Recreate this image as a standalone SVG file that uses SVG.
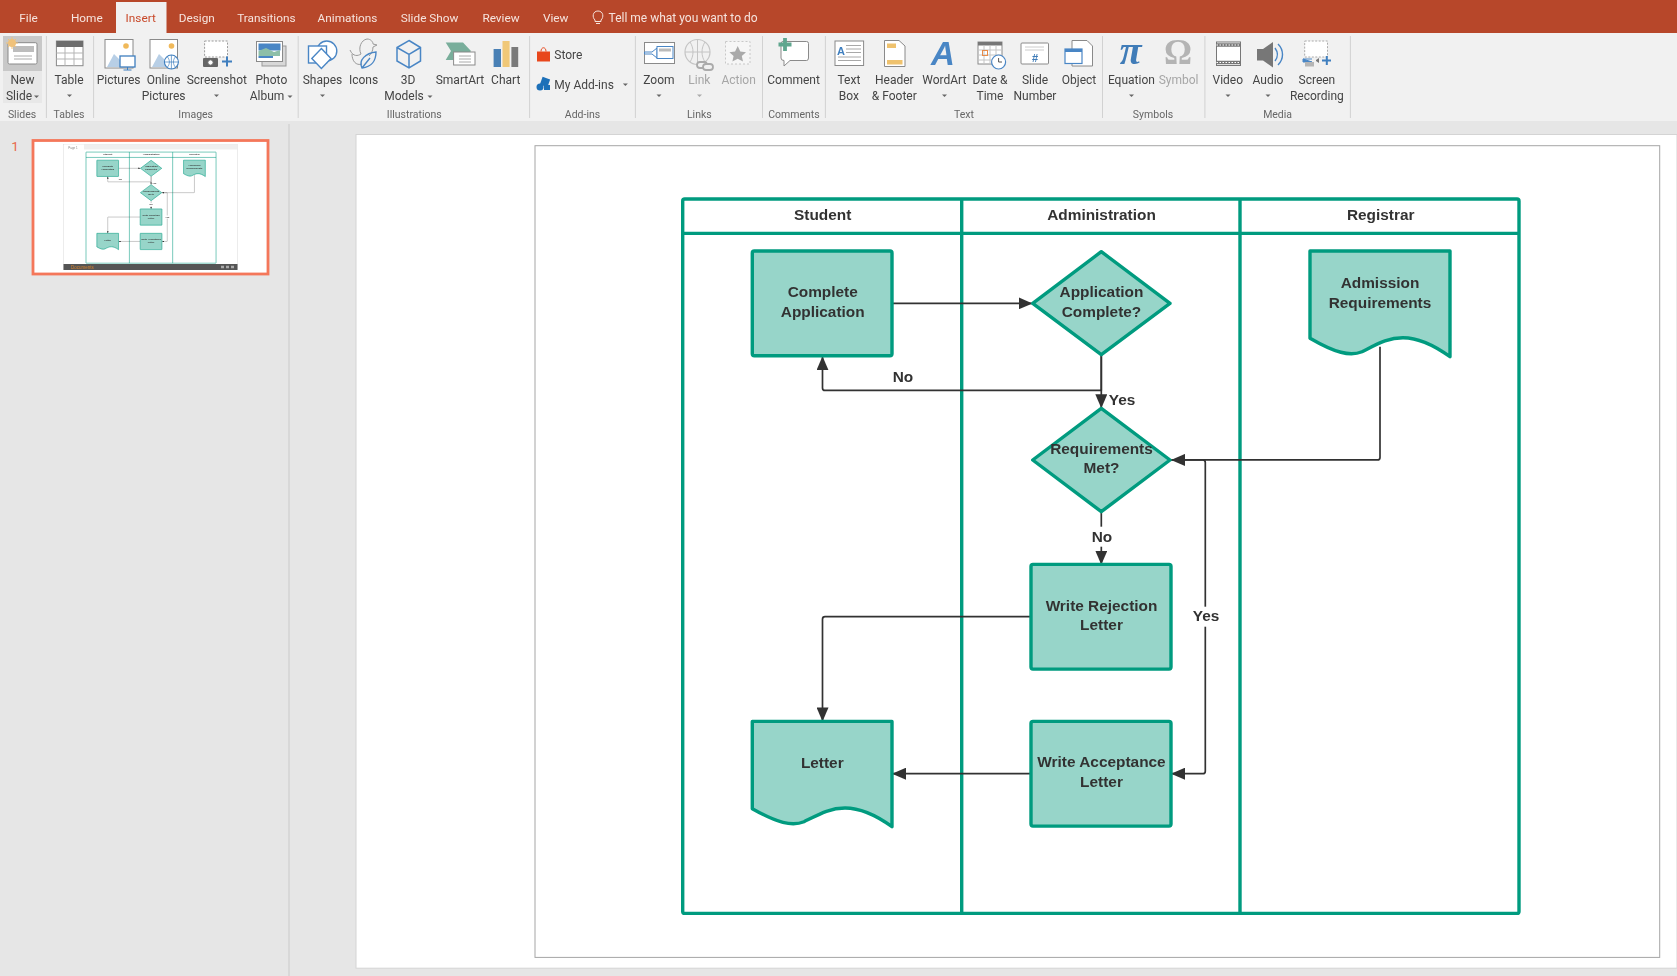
<svg xmlns="http://www.w3.org/2000/svg" xmlns:xlink="http://www.w3.org/1999/xlink" width="1677" height="976" viewBox="0 0 1677 976">
<style>
.tab{font:11.8px Roboto,"Liberation Sans",sans-serif;fill:#F6E4DE;text-anchor:middle}
.lb{font:12px Roboto,"Liberation Sans",sans-serif;fill:#444;text-anchor:middle}
.dis{fill:#A6A6A6}
.gl{font:10.5px Roboto,"Liberation Sans",sans-serif;fill:#666;text-anchor:middle}
.sep{stroke:#D2D2D2;stroke-width:1}
.ico{fill:#fff;stroke:#8A8A8A;stroke-width:1}
.blue{fill:none;stroke:#4A86C5;stroke-width:1.4}
.t{font:bold 15.4px "Liberation Sans",Arial,sans-serif;fill:#333;text-anchor:middle}
.lane{fill:none;stroke:#009B7F;stroke-width:3.4;stroke-linejoin:round}
.shape{fill:#97D5C9;stroke:#009B7F;stroke-width:3.4;stroke-linejoin:round}
.c{fill:none;stroke:#333;stroke-width:1.7;stroke-linejoin:round}
</style>
<defs>
<marker id="ah" markerUnits="userSpaceOnUse" markerWidth="15" markerHeight="12" refX="14" refY="6" orient="auto"><path d="M0 0L14 6L0 12Z" fill="#333"/></marker>
<filter id="soft" x="-2%" y="-2%" width="104%" height="104%"><feGaussianBlur stdDeviation="0.35"/></filter>
<filter id="main" x="-2%" y="-2%" width="104%" height="104%"><feGaussianBlur stdDeviation="0.3"/></filter>
<filter id="thumb" x="-2%" y="-2%" width="104%" height="104%"><feGaussianBlur stdDeviation="0.6"/></filter>
<path id="dd" d="M-2.5 0H2.5L0 2.5Z" fill="#666"/>
<g id="diagram">
<g id="lanes">
<rect class="lane" x="682.7" y="198.3" width="836.3" height="714.4" rx="2" fill="none"/>
<path class="lane" d="M682.7 232.7H1519M961.7 198.3V912.7M1240 198.3V912.7"/>
<text class="t" x="822.7" y="219.3">Student</text>
<text class="t" x="1101.5" y="219.3">Administration</text>
<text class="t" x="1380.7" y="219.3">Registrar</text>
</g>
<g id="connectors">
<path class="c" d="M892 302.7H1032.5" marker-end="url(#ah)"/>
<path class="c" d="M1101.3 354V389.7H825a2.5 2.5 0 0 1-2.5-2.5V355.5" marker-end="url(#ah)"/>
<path class="c" d="M1101.3 354V407.5" marker-end="url(#ah)"/>
<path class="c" d="M1380 346V456.7a2.5 2.5 0 0 1-2.5 2.5H1171" marker-end="url(#ah)"/>
<path class="c" d="M1101.3 511V564" marker-end="url(#ah)"/>
<path class="c" d="M1031 616H825a2.5 2.5 0 0 0-2.5 2.5V720.7" marker-end="url(#ah)"/>
<path class="c" d="M1171 459.2H1202.8a2.5 2.5 0 0 1 2.5 2.5V770.5a2.5 2.5 0 0 1-2.5 2.5H1171" marker-end="url(#ah)"/>
<path class="c" d="M1031 773H892" marker-end="url(#ah)"/>
</g>
<g id="edge-labels">
<text class="t" x="903" y="381">No</text>
<text class="t" x="1122" y="404">Yes</text>
<rect x="1088" y="526" width="27" height="20" fill="#fff"/>
<text class="t" x="1102" y="541.3">No</text>
<rect x="1190" y="606" width="32" height="20" fill="#fff"/>
<text class="t" x="1206" y="620.7">Yes</text>
</g>
<g id="complete-application"><rect class="shape" x="752.3" y="250.3" width="139.7" height="104.7" rx="2"/><text class="t" x="822.7" y="296.7">Complete</text><text class="t" x="822.7" y="316">Application</text></g>
<g id="application-complete"><path class="shape" d="M1101.3 251L1170 302.7L1101.3 354L1032.7 302.7Z"/><text class="t" x="1101.5" y="296.7">Application</text><text class="t" x="1101.5" y="316">Complete?</text></g>
<g id="admission-requirements"><path class="shape" d="M1310 250.3H1450V356C1432 343 1418 337 1403 337C1388 337 1378 343 1362 351C1350 356 1335 352 1310 337.5Z"/><text class="t" x="1380" y="287.7">Admission</text><text class="t" x="1380" y="307">Requirements</text></g>
<g id="requirements-met"><path class="shape" d="M1101.3 407.7L1170 459.3L1101.3 511L1032.7 459.3Z"/><text class="t" x="1101.5" y="453.3">Requirements</text><text class="t" x="1101.5" y="472.7">Met?</text></g>
<g id="write-rejection"><rect class="shape" x="1031" y="563.7" width="140" height="104.7" rx="2"/><text class="t" x="1101.5" y="610">Write Rejection</text><text class="t" x="1101.5" y="629.3">Letter</text></g>
<g id="write-acceptance"><rect class="shape" x="1031" y="720.7" width="140" height="104.7" rx="2"/><text class="t" x="1101.5" y="766.7">Write Acceptance</text><text class="t" x="1101.5" y="786">Letter</text></g>
<g id="letter"><path class="shape" d="M752.3 720.7H892V826C874 813 860 807.3 845 807.3C830 807.3 820 813 804 821C792 826 777 822 752.3 808Z"/><text class="t" x="822.3" y="767.7">Letter</text></g>
</g>
</defs>

<rect width="1677" height="976" fill="#E6E6E6"/>
<rect x="356" y="134.500" width="1321" height="833.700" fill="#fff" stroke="#D4D4D4" stroke-width="1"/>
<rect x="535" y="145.700" width="1124.700" height="811.700" fill="#fff" stroke="#A6A6A6" stroke-width="1"/>
<path d="M289 124V976" stroke="#CFCFCF" stroke-width="1.200"/>

<g id="ribbon" filter="url(#soft)">
<rect width="1677" height="33" fill="#B7472A"/>
<rect y="33" width="1677" height="88" fill="#F1F1F1"/>
<rect x="116" y="2" width="50.500" height="32" fill="#F1F1F1"/>
<g id="tabs">
<text class="tab" x="28.600" y="21.500">File</text><text class="tab" x="86.800" y="21.500">Home</text><text class="tab" x="140.700" y="21.500" style="fill:#C8492A">Insert</text><text class="tab" x="196.800" y="21.500">Design</text><text class="tab" x="266.400" y="21.500">Transitions</text><text class="tab" x="347.500" y="21.500">Animations</text><text class="tab" x="429.600" y="21.500">Slide Show</text><text class="tab" x="501" y="21.500">Review</text><text class="tab" x="555.700" y="21.500">View</text>
<text class="tab" x="608.600" y="21.500" style="text-anchor:start;font-size:12px">Tell me what you want to do</text>
<path d="M595 21.500V20C592 17.500 592.500 11 598 11S604 17.500 601 20V21.500ZM596 23.500H600" fill="none" stroke="#F6E4DE" stroke-width="1"/>
</g>
<g class="sep"><path d="M46.400 36V118M93.600 36V118M298.200 36V118M529.600 36V118M635.400 36V118M762.500 36V118M825.400 36V118M1102.500 36V118M1204.900 36V118M1350.400 36V118"/></g>
<g id="group-labels">
<text class="gl" x="22" y="117.500">Slides</text><text class="gl" x="69" y="117.500">Tables</text><text class="gl" x="195.700" y="117.500">Images</text><text class="gl" x="414.300" y="117.500">Illustrations</text><text class="gl" x="582.500" y="117.500">Add-ins</text><text class="gl" x="699.300" y="117.500">Links</text><text class="gl" x="793.900" y="117.500">Comments</text><text class="gl" x="963.900" y="117.500">Text</text><text class="gl" x="1153" y="117.500">Symbols</text><text class="gl" x="1277.600" y="117.500">Media</text>
</g>
<g id="btn-new-slide"><rect x="3" y="36" width="39" height="67" fill="#E8E8E8"/><rect x="3" y="36" width="39" height="35" fill="#C8C8C8"/><rect class="ico" x="8" y="42.700" width="29" height="21.300" rx="1.500"/><rect x="13" y="46" width="21" height="6" fill="#BDBDBD"/><path d="M14 56H32M14 59H32" stroke="#AAA"/><circle cx="12" cy="43" r="4" fill="#F0C27B"/><path d="M12 37V49M6 43H18M8 39L16 47M16 39L8 47" stroke="#F0C27B"/><text class="lb" x="22.500" y="84">New</text><text class="lb" x="19" y="100">Slide</text><use href="#dd" x="36.500" y="95.500"/></g>
<g id="btn-table"><rect class="ico" x="56.400" y="41" width="26.600" height="24.700"/><rect x="56.400" y="41" width="26.600" height="6" fill="#6D6D6D"/><path d="M56.400 53H83M56.400 59H83M65 47V65.700M74 47V65.700" stroke="#B5B5B5"/><text class="lb" x="69" y="84">Table</text><use href="#dd" x="69.500" y="94.500"/></g>
<g id="btn-pictures"><rect class="ico" x="105" y="39.500" width="28" height="28.500"/><circle cx="126" cy="46" r="2.800" fill="#F0B95A"/><path d="M107 67L114 54L120 60L124 67Z" fill="#B8CFE6"/><rect x="120" y="56" width="15" height="11" fill="#fff" stroke="#3F7FBF" stroke-width="1.300"/><path d="M127.500 67V70M123.500 70H131.500" stroke="#3F7FBF"/><text class="lb" x="118.600" y="84">Pictures</text></g>
<g id="btn-online"><rect class="ico" x="150" y="39.500" width="27.500" height="28.500"/><circle cx="171.500" cy="46" r="2.800" fill="#F0B95A"/><path d="M152 67L159 54L165 60L169 67Z" fill="#B8CFE6"/><circle cx="171.400" cy="62" r="7" fill="#fff" stroke="#3F7FBF" stroke-width="1.100"/><path d="M164.400 62H178.400M171.400 55V69M167.500 57C170 60 170 64 167.500 67M175.300 57C172.800 60 172.800 64 175.300 67" fill="none" stroke="#3F7FBF" stroke-width=".7"/><text class="lb" x="163.600" y="84">Online</text><text class="lb" x="163.600" y="100">Pictures</text></g>
<g id="btn-screenshot"><rect x="204.600" y="41" width="22.900" height="16" fill="#fff" stroke="#9A9A9A" stroke-dasharray="2 1.500"/><rect x="203" y="58" width="15" height="9" rx="1" fill="#666"/><circle cx="210.500" cy="62.500" r="2.700" fill="#fff" stroke="#666"/><path d="M222 61.500H232M227 56.500V66.500" stroke="#3F7FBF" stroke-width="2"/><text class="lb" x="216.800" y="84">Screenshot</text><use href="#dd" x="216.500" y="94.500"/></g>
<g id="btn-album"><rect x="262" y="46" width="24" height="20" fill="#D8D8D8" stroke="#999"/><rect class="ico" x="256.500" y="41.500" width="26" height="20"/><rect x="258.500" y="43.500" width="22" height="7" fill="#4A86C5"/><path d="M258.500 51L266 48L274 52L280 50V56H258.500Z" fill="#8DBFA8"/><path d="M258.500 57H273" stroke="#4A86C5" stroke-width="2"/><text class="lb" x="271.400" y="84">Photo</text><text class="lb" x="267" y="100">Album</text><use href="#dd" x="290" y="95.500"/></g>
<g id="btn-shapes"><circle class="blue" cx="326.800" cy="51" r="10" style="fill:#fff"/><rect class="blue" x="308.500" y="46" width="18" height="17" style="fill:#fff"/><path class="blue" d="M321.400 48.500L331 58.500L321.400 68.500L311.800 58.500Z" style="fill:#fff"/><text class="lb" x="322.500" y="84">Shapes</text><use href="#dd" x="322.500" y="94.500"/></g>
<g id="btn-icons" fill="none" stroke="#9A9A9A" stroke-width="1"><path d="M350 50C353 57 358 56 361 54C358 48 361 40 367 39C371 39 373 42 373 44L377 45L373 47C373 51 371 54 369 56"/><path d="M352 54C352 61 356 66 362 64"/><path class="blue" d="M362 68C358 60 366 53 376 52C376 60 372 67 362 68ZM362 68L370 58" stroke-width="1"/><text class="lb" x="363.600" y="84" stroke="none">Icons</text></g>
<g id="btn-3d"><path class="blue" d="M409 40.500L420.500 47.500V61L409 68L397 61V47.500ZM397 47.500L409 54.500L420.500 47.500M409 54.500V68" style="stroke-width:1.500"/><text class="lb" x="408" y="84">3D</text><text class="lb" x="404" y="100">Models</text><use href="#dd" x="430" y="95.500"/></g>
<g id="btn-smartart"><path d="M445.700 42.500H463L471 51L463 60H445.700L451 51Z" fill="#79AE9B"/><rect class="ico" x="453.600" y="52" width="21.400" height="13"/><path d="M459 56H471M459 59H471M459 62H471" stroke="#AAA"/><text class="lb" x="460" y="84">SmartArt</text></g>
<g id="btn-chart"><rect x="493.600" y="49" width="7.400" height="18" fill="#4A80B5"/><rect x="502.500" y="41" width="7.100" height="26" fill="#F0C878"/><rect x="511.400" y="47" width="6.800" height="20" fill="#7A7A7A"/><text class="lb" x="505.700" y="84">Chart</text></g>
<g id="btn-store"><path d="M537 51.500H550V61.500H537Z" fill="#E8471C"/><path d="M541 51.500C541 46.500 546 46.500 546 51.500" fill="none" stroke="#E8471C"/><text class="lb" x="554.300" y="59" style="text-anchor:start">Store</text></g>
<g id="btn-addins"><rect x="541" y="78" width="8" height="8" fill="#1E6FB8" transform="rotate(20 545 82)"/><circle cx="540" cy="87" r="3.500" fill="#1E6FB8"/><rect x="544" y="85" width="6" height="5" fill="#1E6FB8"/><text class="lb" x="554.300" y="88.500" style="text-anchor:start">My Add-ins</text><use href="#dd" x="625.400" y="83.500"/></g>
<g id="btn-zoom"><rect class="ico" x="644.500" y="42.500" width="30" height="21"/><path d="M644.500 52L652 52L657 48V58L652 54L644.500 54Z" fill="#fff" stroke="#4A86C5"/><rect x="657" y="46.500" width="16" height="12" fill="#fff" stroke="#4A86C5"/><rect x="659" y="48.500" width="12" height="3" fill="#BBB"/><text class="lb" x="658.900" y="84">Zoom</text><use href="#dd" x="659" y="94.500"/></g>
<g id="btn-link"><circle cx="697.500" cy="52" r="12.500" fill="none" stroke="#C4C4C4" stroke-width="1.200"/><path d="M685 52H710M697.500 39.500V64.500M690 42C694 48 694 56 690 62M705 42C701 48 701 56 705 62" fill="none" stroke="#C4C4C4"/><rect x="697" y="62" width="10" height="6" rx="3" fill="#F1F1F1" stroke="#ABABAB" stroke-width="1.800"/><rect x="703" y="64" width="10" height="6" rx="3" fill="#F1F1F1" stroke="#ABABAB" stroke-width="1.800"/><text class="lb dis" x="699.300" y="84">Link</text><use href="#dd" x="699.500" y="94.500" opacity=".5"/></g>
<g id="btn-action"><rect x="725.500" y="41.500" width="24.500" height="22.500" fill="#F6F6F6" stroke="#C8C8C8" stroke-dasharray="2 2"/><path d="M737.700 46L740.300 51.500L746 52.200L741.800 56L743 61.500L737.700 58.700L732.400 61.500L733.600 56L729.400 52.200L735.100 51.500Z" fill="#AAA"/><text class="lb dis" x="738.600" y="84">Action</text></g>
<g id="btn-comment"><path class="ico" d="M783 41.500H806.500Q808.500 41.500 808.500 43.500V58Q808.500 60.500 806.500 60.500H790L784 66V60.500Q781 60.500 781 58V43.500Q781 41.500 783 41.500Z"/><path d="M785 38V51M778.500 44.500H791.500" stroke="#5FA68E" stroke-width="3.800"/><text class="lb" x="793.600" y="84">Comment</text></g>
<g id="btn-textbox"><rect class="ico" x="835" y="41" width="28.600" height="24.500"/><text x="837" y="55" font-family="Liberation Sans,sans-serif" font-weight="bold" font-size="11" fill="#3F7FBF">A</text><path d="M846 45.500H861M846 49H861M846 52.500H861M838 57H861M838 60.500H861" stroke="#A8A8A8"/><text class="lb" x="848.900" y="84">Text</text><text class="lb" x="848.900" y="100">Box</text></g>
<g id="btn-header"><path class="ico" d="M884.500 40.500H899L905 46V66.500H884.500Z"/><rect x="887" y="43.500" width="9" height="4.500" fill="#EFC26E"/><rect x="887" y="60" width="15.500" height="4.500" fill="#EFC26E"/><text class="lb" x="894.300" y="84">Header</text><text class="lb" x="894.300" y="100">&amp; Footer</text></g>
<g id="btn-wordart"><text x="943" y="65" font-family="Liberation Sans,sans-serif" font-weight="bold" font-style="italic" font-size="33" fill="#4A86C5" text-anchor="middle">A</text><text class="lb" x="944.300" y="84">WordArt</text><use href="#dd" x="944.500" y="94.500"/></g>
<g id="btn-date"><rect class="ico" x="978" y="42" width="24" height="22"/><rect x="978" y="42" width="24" height="3.500" fill="#777"/><path d="M978 50H1002M978 55H1002M978 60H1002M984 45.500V64M990 45.500V64M996 45.500V64" stroke="#C4C4C4"/><rect x="982.500" y="50.500" width="5" height="5" fill="none" stroke="#E88B4A"/><circle cx="998.600" cy="62" r="7" fill="#fff" stroke="#4A86C5" stroke-width="1.200"/><path d="M998.600 58V62H1002" fill="none" stroke="#555"/><text class="lb" x="990" y="84">Date &amp;</text><text class="lb" x="990" y="100">Time</text></g>
<g id="btn-number"><rect class="ico" x="1021" y="43" width="27.500" height="21" rx="1"/><path d="M1025 47H1044M1025 50H1044" stroke="#CCC"/><text x="1035" y="62" font-family="Liberation Sans,sans-serif" font-weight="bold" font-size="11" fill="#3F7CB8" text-anchor="middle">#</text><text class="lb" x="1035" y="84">Slide</text><text class="lb" x="1035" y="100">Number</text></g>
<g id="btn-object"><path class="ico" d="M1072 40.500H1087L1092.500 46V66H1072Z"/><rect x="1065" y="49" width="17" height="14.500" fill="#fff" stroke="#4A86C5" stroke-width="1.200"/><rect x="1065" y="49" width="17" height="3" fill="#4A86C5"/><text class="lb" x="1079" y="84">Object</text></g>
<g id="btn-equation"><text x="1130.600" y="64" font-family="Liberation Serif,serif" font-style="italic" font-weight="bold" font-size="40" fill="#3F7CB8" text-anchor="middle">π</text><text class="lb" x="1131.400" y="84">Equation</text><use href="#dd" x="1131.500" y="94.500"/></g>
<g id="btn-symbol"><text x="1178" y="64" font-family="Liberation Serif,serif" font-weight="bold" font-size="35" fill="#B4B4B4" text-anchor="middle">Ω</text><text class="lb dis" x="1178.600" y="84">Symbol</text></g>
<g id="btn-video"><rect x="1216.500" y="42" width="24" height="23.500" fill="#fff" stroke="#777"/><path d="M1216.500 45H1240.500M1216.500 62.500H1240.500" stroke="#777" stroke-width="3.400"/><path d="M1216.500 45H1240.500M1216.500 62.500H1240.500" stroke="#fff" stroke-width="1.200" stroke-dasharray="1.500 1.500"/><text class="lb" x="1227.800" y="84">Video</text><use href="#dd" x="1228" y="94.500"/></g>
<g id="btn-audio"><path d="M1257 49H1263L1273 42V67.500L1263 60.500H1257Z" fill="#777"/><path class="blue" d="M1275 48C1278 52 1278 57 1275 61M1278 44C1284 50 1284 59 1278 65"/><text class="lb" x="1268" y="84">Audio</text><use href="#dd" x="1268" y="94.500"/></g>
<g id="btn-recording"><rect x="1304.700" y="41" width="22.800" height="16" fill="#fff" stroke="#AAA" stroke-dasharray="2 1.500"/><path d="M1303 59H1312M1303 59V62H1312Z" fill="#4A86C5" stroke="#4A86C5"/><rect x="1305" y="62" width="9" height="4.500" fill="#B5B5B5"/><path d="M1316 60L1319 58V63L1316 61Z" fill="#777"/><path d="M1322 60.500H1331M1326.800 56V65" stroke="#3F7FBF" stroke-width="2"/><text class="lb" x="1316.900" y="84">Screen</text><text class="lb" x="1316.900" y="100">Recording</text></g>
</g>

<g id="slide-panel">
<text x="15" y="151" font-family="Roboto,Liberation Sans,sans-serif" font-size="13.500" fill="#E8694A" text-anchor="middle">1</text>
<rect x="33" y="140.500" width="235" height="133.500" fill="#fff" stroke="#F4775A" stroke-width="2.800"/>
<g id="thumbnail" filter="url(#thumb)">
<rect x="63.500" y="144.500" width="174" height="125" fill="#fff" stroke="#E0E0E0" stroke-width=".6"/>
<rect x="84" y="144.500" width="153" height="5" fill="#EFEFEF"/>
<rect x="64" y="144.500" width="20" height="5" fill="#fff"/>
<text x="73" y="148.500" font-family="Liberation Sans,sans-serif" font-size="3" fill="#888" text-anchor="middle">Page 1</text>
<use href="#diagram" transform="translate(-20.150 121.250) scale(.1555)"/>
<rect x="63.500" y="264" width="174" height="6" fill="#555"/>
<text x="71" y="269" font-family="Liberation Sans,sans-serif" font-size="4.500" fill="#D9822B">Documents</text>
<path d="M221 267H234" stroke="#AAA" stroke-width="2.500" stroke-dasharray="3 2"/>
</g>
</g>

<use href="#diagram" transform="translate(0 .7)" filter="url(#main)"/>
</svg>
